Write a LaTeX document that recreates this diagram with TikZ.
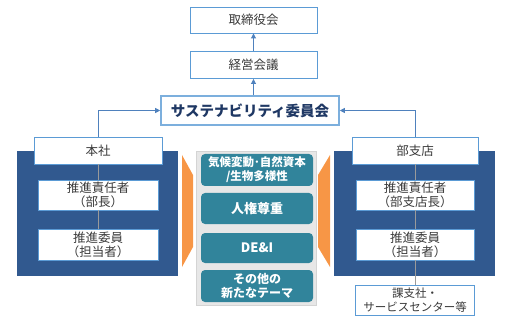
\documentclass[tikz,border=0pt]{standalone}
\usepackage{fontspec}
\setmainfont{Noto Sans CJK JP}
\usetikzlibrary{arrows.meta}
\definecolor{panelblue}{HTML}{31598F}
\definecolor{tealbox}{HTML}{31849B}
\definecolor{orangec}{HTML}{F79646}
\definecolor{graypanel}{HTML}{E7E7E7}
\definecolor{grayedge}{HTML}{D4D4D4}
\definecolor{boxblue}{HTML}{5B9BD5}
\definecolor{arrblue}{HTML}{4F81BD}
\definecolor{navytext}{HTML}{1F3864}
\definecolor{textgray}{HTML}{3A3A3A}
\definecolor{linegray}{HTML}{9A9A9A}
\tikzset{
  wbox/.style={draw=boxblue, line width=0.9pt, fill=white, inner sep=0pt, align=center,
    text=textgray, font=\fontsize{12.5}{14}\selectfont},
  tbox/.style={fill=tealbox, rounded corners=4pt, inner sep=0pt, align=center,
    text=white, minimum width=112pt, font=\bfseries\fontsize{13}{14}\selectfont},
  arr/.style={draw=arrblue, line width=0.9pt, -{Triangle[length=5pt,width=5pt]}},
  gline/.style={draw=linegray, line width=0.8pt},
}
\begin{document}
\begin{tikzpicture}[x=1pt,y=-1pt]
\useasboundingbox (0,0) rectangle (509,326);
% panels
\fill[panelblue] (17,151) rectangle (178,276);
\fill[panelblue] (334,151) rectangle (495,276);
\filldraw[fill=graypanel, draw=grayedge, line width=0.8pt] (196,151) rectangle (316,305);
% orange chevrons
\fill[orangec] (182,155) -- (193,175) -- (193,247) -- (182,267) -- cycle;
\fill[orangec] (330,155) -- (318,175) -- (318,247) -- (330,267) -- cycle;
% top boxes
\node[wbox, minimum width=127pt, minimum height=26pt] (board) at (253.5,20) {取締役会};
\node[wbox, minimum width=127pt, minimum height=27pt] (keiei) at (253.5,65) {経営会議};
\node[wbox, draw=boxblue!80, line width=1.6pt, minimum width=178pt, minimum height=29pt,
  text=navytext, font=\bfseries\fontsize{14.5}{16}\selectfont] (sus) at (250,110.5) {サステナビリティ委員会};
% left side
\node[wbox, minimum width=128pt, minimum height=27pt] (honsha) at (98,150.5) {本社};
\node[wbox, minimum width=120pt, minimum height=30pt] (sekL) at (98,195) {推進責任者\\（部長）};
\node[wbox, minimum width=120pt, minimum height=31pt] (iinL) at (98,244.5) {推進委員\\（担当者）};
% right side
\node[wbox, minimum width=126pt, minimum height=27pt] (bushiten) at (415,150.5) {部支店};
\node[wbox, minimum width=118pt, minimum height=30pt] (sekR) at (415,195) {推進責任者\\（部支店長）};
\node[wbox, minimum width=118pt, minimum height=31pt] (iinR) at (415,244.5) {推進委員\\（担当者）};
\node[wbox, minimum width=119pt, minimum height=30pt, font=\fontsize{11.5}{14}\selectfont] (kashi) at (415,300) {課支社・\\サービスセンター等};
% teal theme boxes
\node[tbox, minimum height=32pt, font=\bfseries\fontsize{11.5}{14}\selectfont] (t1) at (257,170) {気候変動･自然資本\\/生物多様性};
\node[tbox, minimum height=31pt] (t2) at (257,208.5) {人権尊重};
\node[tbox, minimum height=30pt] (t3) at (257,248) {DE\&I};
\node[tbox, minimum height=32pt, font=\bfseries\fontsize{12}{14}\selectfont] (t4) at (257,286) {その他の\\新たなテーマ};
% connectors
\draw[arr] (keiei.north) -- (board.south);
\draw[arr] (sus.north -| keiei.south) -- (keiei.south);
\draw[arr] (honsha.north) |- (sus.west);
\draw[arr] (bushiten.north) |- (sus.east);
\draw[gline] (honsha.south) -- (sekL.north);
\draw[gline] (sekL.south) -- (iinL.north);
\draw[gline] (bushiten.south) -- (sekR.north);
\draw[gline] (sekR.south) -- (iinR.north);
\draw[gline] (iinR.south) -- (kashi.north);
\end{tikzpicture}
\end{document}
